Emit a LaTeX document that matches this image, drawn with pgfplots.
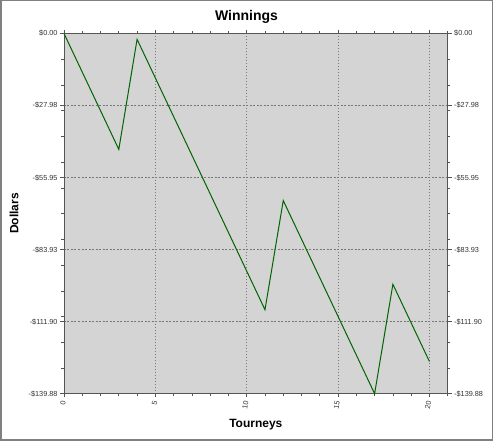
\documentclass[border=0pt]{standalone}
\usepackage{fontspec}
\setmainfont{Liberation Sans}
\usepackage{pgfplots}
\pgfplotsset{compat=1.18}
\definecolor{plotbg}{RGB}{212,212,212}
\definecolor{linegreen}{RGB}{0,100,0}
\definecolor{axisgray}{RGB}{85,85,85}
\definecolor{gridgray}{RGB}{120,120,120}
\pgfplotsset{
  common/.style={
    scale only axis, width=383.7pt, height=360.2pt,
    at={(64pt,47.3pt)}, anchor=south west,
    xmin=0, xmax=21, ymin=-139.88, ymax=0,
    /pgf/number format/assume math mode=true,
    ytick={-139.88,-111.904,-83.928,-55.952,-27.976,0},
    yticklabels={-\$139.88,-\$111.90,-\$83.93,-\$55.95,-\$27.98,\$0.00},
    minor ytick={-130,-120,-110,-100,-90,-80,-70,-60,-50,-40,-30,-20,-10},
    tick align=outside,
    major tick length=3.8pt, minor tick length=2.6pt,
    tick style={axisgray, line width=0.7pt},
    axis line style={axisgray, line width=0.8pt},
    yticklabel style={font=\fontsize{7.3}{8}\selectfont, text=black!80, inner sep=2.5pt},
    xticklabel style={font=\fontsize{7.3}{8}\selectfont, text=black!80, rotate=80, anchor=east, inner sep=3pt},
  }
}
\begin{document}
\begin{tikzpicture}
\useasboundingbox (0pt,0pt) rectangle (493pt,441pt);
\fill[white] (0pt,0pt) rectangle (493pt,441pt);
\begin{axis}[common,
  axis background/.style={fill=plotbg},
  xtick={0,5,10,15,20}, minor xtick={1,2,3,4,6,7,8,9,11,12,13,14,16,17,18,19,21},
  xtick pos=both, xticklabel pos=lower,
  ytick pos=left,
  xmajorgrids, ymajorgrids,
  x grid style={gridgray, line width=0.5pt, dash pattern=on 1pt off 2pt},
  y grid style={gridgray, line width=0.5pt, dash pattern=on 2pt off 1.5pt},
  xlabel={Tourneys}, ylabel={Dollars},
  xlabel style={font=\bfseries\fontsize{12}{14}\selectfont, at={(axis description cs:0.5,-0.087)}, anchor=center},
  ylabel style={font=\bfseries\fontsize{12}{14}\selectfont, at={(axis description cs:-0.130,0.5)}, anchor=center},
  clip=false,
]
\addplot[linegreen, line width=1pt] coordinates {
(0,0) (1,-15) (2,-30) (3,-45) (4,-2.27) (5,-17.27) (6,-32.27) (7,-47.27)
(8,-62.27) (9,-77.27) (10,-92.27) (11,-107.27) (12,-64.88) (13,-79.88)
(14,-94.88) (15,-109.88) (16,-124.88) (17,-139.88) (18,-97.38) (19,-112.38)
(20,-127.38)
};
\end{axis}
\begin{axis}[common,
  hide x axis, axis y line*=right,
]
\end{axis}
\node[font=\bfseries\fontsize{14}{16}\selectfont] at (246.5pt,424pt) {Winnings};
\draw[gray, line width=1.5pt] (0.75pt,0.75pt) rectangle (492.25pt,440.25pt);
\end{tikzpicture}
\end{document}
